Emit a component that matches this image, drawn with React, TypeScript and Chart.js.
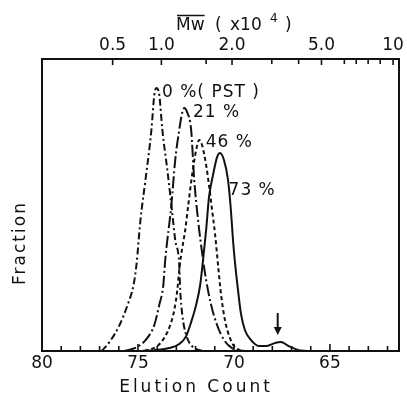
import { useEffect, useRef } from 'react';
import { Chart, registerables } from 'chart.js';
Chart.register(...registerables);

// ---- data ----
const seriesNames = ['0 %( PST )', '21 %', '46 %', '73 %'];

const elution0 = [76.89, 76.48, 75.96, 75.54, 75.23, 75.08, 74.87, 74.61, 74.30, 74.15, 74.04, 73.89, 73.73, 73.47, 73.26, 73.06, 72.85, 72.80, 72.69, 72.49, 72.07, 71.55];
const fraction0 = [0, 0.031, 0.089, 0.158, 0.226, 0.295, 0.449, 0.586, 0.757, 0.877, 0.901, 0.877, 0.757, 0.620, 0.500, 0.380, 0.295, 0.209, 0.123, 0.055, 0.010, 0];

const elution21 = [75.70, 75.03, 74.51, 74.15, 73.89, 73.68, 73.58, 73.26, 73.06, 72.85, 72.69, 72.59, 72.44, 72.23, 72.07, 71.87, 71.61, 71.45, 71.19, 70.88, 70.52, 70.10, 69.48];
const fraction21 = [0, 0.014, 0.045, 0.089, 0.158, 0.226, 0.312, 0.500, 0.654, 0.757, 0.818, 0.832, 0.818, 0.757, 0.586, 0.449, 0.312, 0.243, 0.158, 0.089, 0.038, 0.010, 0];

const elution46 = [74.66, 73.99, 73.63, 73.32, 73.11, 72.95, 72.85, 72.75, 72.54, 72.38, 72.18, 71.97, 71.81, 71.66, 71.45, 71.30, 71.14, 70.98, 70.83, 70.67, 70.47, 70.21, 69.90, 69.38];
const fraction46 = [0, 0.017, 0.045, 0.089, 0.140, 0.209, 0.277, 0.329, 0.414, 0.500, 0.603, 0.688, 0.723, 0.705, 0.637, 0.568, 0.483, 0.397, 0.295, 0.192, 0.106, 0.045, 0.010, 0];

const elution73 = [74.92, 74.15, 73.37, 72.85, 72.49, 72.23, 71.97, 71.76, 71.61, 71.45, 71.30, 71.09, 70.88, 70.73, 70.52, 70.31, 70.16, 70.05, 69.95, 69.79, 69.64, 69.43, 69.12, 68.70, 68.29, 67.88, 67.56, 67.15, 66.63, 66.22];
const fraction73 = [0, 0.003, 0.010, 0.024, 0.051, 0.099, 0.158, 0.226, 0.312, 0.414, 0.527, 0.603, 0.664, 0.678, 0.654, 0.586, 0.483, 0.380, 0.305, 0.209, 0.130, 0.072, 0.038, 0.017, 0.017, 0.027, 0.031, 0.017, 0.003, 0];

// bottom axis (elution count)
const elutionTicks = [80, 79, 78, 77, 76, 75, 74, 73, 72, 71, 70, 69, 68, 67, 66, 65, 64, 63, 62];
const elutionLabels = [80, 75, 70, 65];

// top axis (Mw x10^4), positions on the elution-count scale
const mwTickText = ['0.5', '1.0', '1.5', '2.0', '3.0', '4.0', '5.0', '6.0', '7.0', '8.0', '9.0', '10'];
const mwTickElution = [76.32, 73.78, 71.45, 70.10, 68.03, 66.63, 65.44, 64.25, 63.63, 63.01, 62.38, 61.71];
const mwLabelsShown = ['0.5', '1.0', '2.0', '5.0', '10'];

const arrowElution = 67.72;

const INK = '#111111';
const FONT = '"DejaVu Sans", sans-serif';
const FS = 17;

const toXY = (xs: number[], ys: number[]) => xs.map((x, i) => ({ x, y: ys[i] }));

const decorPlugin = {
  id: 'decor',
  afterDraw(chart: any) {
    const ctx = chart.ctx as CanvasRenderingContext2D;
    const xb = chart.scales.x;
    const xt = chart.scales.xTop;
    const y = chart.scales.y;
    const area = chart.chartArea;
    ctx.save();
    ctx.strokeStyle = INK;
    ctx.fillStyle = INK;
    ctx.lineWidth = 1.6;
    // inward ticks bottom
    elutionTicks.forEach((v) => {
      const px = xb.getPixelForValue(v);
      const len = v % 5 === 0 ? 7 : 5;
      ctx.beginPath();
      ctx.moveTo(px, area.bottom);
      ctx.lineTo(px, area.bottom - len);
      ctx.stroke();
    });
    // inward ticks top
    mwTickElution.forEach((v, i) => {
      const px = xt.getPixelForValue(v);
      const len = mwLabelsShown.includes(mwTickText[i]) ? 6 : 5;
      ctx.beginPath();
      ctx.moveTo(px, area.top);
      ctx.lineTo(px, area.top + len);
      ctx.stroke();
    });

    // series labels
    const labelAnchors = [
      [73.75, 0.870],
      [72.14, 0.801],
      [71.47, 0.699],
      [70.28, 0.534],
    ];
    ctx.font = `${FS}px ${FONT}`;
    (ctx as any).letterSpacing = '1px';
    ctx.textAlign = 'left';
    ctx.textBaseline = 'alphabetic';
    seriesNames.forEach((name, i) => {
      const [ex, fy] = labelAnchors[i];
      ctx.fillText(name, xb.getPixelForValue(ex), y.getPixelForValue(fy));
    });

    // arrow
    const ax = xb.getPixelForValue(arrowElution);
    const ay1 = y.getPixelForValue(0.13);
    const ay2 = y.getPixelForValue(0.055);
    ctx.lineWidth = 2;
    ctx.beginPath();
    ctx.moveTo(ax, ay1);
    ctx.lineTo(ax, ay2 - 6);
    ctx.stroke();
    ctx.beginPath();
    ctx.moveTo(ax - 4, ay2 - 8);
    ctx.lineTo(ax + 4, ay2 - 8);
    ctx.lineTo(ax, ay2);
    ctx.closePath();
    ctx.fill();

    // axis titles
    ctx.font = `${FS}px ${FONT}`;
    (ctx as any).letterSpacing = '3px';
    ctx.textAlign = 'center';
    ctx.fillText('Elution Count', 196, 392);

    ctx.save();
    (ctx as any).letterSpacing = '2px';
    ctx.translate(25, 243);
    ctx.rotate(-Math.PI / 2);
    ctx.fillText('Fraction', 0, 0);
    ctx.restore();

    // top title: Mw (x10^4)
    (ctx as any).letterSpacing = '0px';
    ctx.textAlign = 'left';
    ctx.font = `${FS}px ${FONT}`;
    ctx.fillText('Mw', 176, 30);
    const mwW = ctx.measureText('Mw').width;
    ctx.lineWidth = 1.5;
    ctx.beginPath();
    ctx.moveTo(177, 15.5);
    ctx.lineTo(176 + mwW, 15.5);
    ctx.stroke();
    ctx.fillText('(', 215, 30);
    ctx.fillText('x10', 230, 30);
    ctx.font = `12px ${FONT}`;
    ctx.fillText('4', 270, 22);
    ctx.font = `${FS}px ${FONT}`;
    ctx.fillText(')', 285, 30);

    ctx.restore();
  },
};

export default function App() {
  const ref = useRef<HTMLCanvasElement>(null);
  useEffect(() => {
    if (!ref.current) return;
    const line = (name: string, xs: number[], ys: number[], dash: number[]) => ({
      label: name,
      data: toXY(xs, ys),
      borderColor: INK,
      borderWidth: 2,
      borderDash: dash,
      pointRadius: 0,
      fill: false,
      cubicInterpolationMode: 'monotone' as const,
      xAxisID: 'x',
      yAxisID: 'y',
    });
    const chart = new Chart(ref.current, {
      type: 'line',
      data: {
        datasets: [
          line(seriesNames[0], elution0, fraction0, [7, 3, 2, 3]),
          line(seriesNames[1], elution21, fraction21, [12, 3, 2, 3]),
          line(seriesNames[2], elution46, fraction46, [4, 3]),
          line(seriesNames[3], elution73, fraction73, []),
        ],
      },
      options: {
        animation: false,
        responsive: true,
        maintainAspectRatio: false,
        layout: { padding: 0 },
        plugins: { legend: { display: false }, tooltip: { enabled: false }, title: { display: false } },
        scales: {
          x: {
            type: 'linear',
            position: 'bottom',
            reverse: true,
            min: 61.4,
            max: 80,
            afterBuildTicks: (s: any) => {
              s.ticks = elutionTicks.map((v) => ({ value: v }));
            },
            afterFit: (s: any) => {
              s.height = 45;
            },
            ticks: {
              autoSkip: false,
              maxRotation: 0,
              padding: 2,
              color: INK,
              font: { family: FONT, size: FS },
              callback: (v: any) => (elutionLabels.includes(Number(v)) ? String(v) : ''),
            },
            grid: { display: false, drawTicks: false },
            border: { display: true, color: INK, width: 2 },
          },
          xTop: {
            type: 'linear',
            position: 'top',
            reverse: true,
            min: 61.4,
            max: 80,
            afterBuildTicks: (s: any) => {
              s.ticks = mwTickElution.map((v) => ({ value: v }));
            },
            afterFit: (s: any) => {
              s.height = 59;
            },
            ticks: {
              autoSkip: false,
              maxRotation: 0,
              padding: 3,
              color: INK,
              font: { family: FONT, size: FS },
              callback: (_v: any, i: number) => (mwLabelsShown.includes(mwTickText[i]) ? mwTickText[i] : ''),
            },
            grid: { display: false, drawTicks: false },
            border: { display: true, color: INK, width: 2 },
          },
          y: {
            type: 'linear',
            position: 'left',
            min: 0,
            max: 1,
            afterFit: (s: any) => {
              s.width = 42;
            },
            ticks: { display: false },
            grid: { display: false, drawTicks: false },
            border: { display: true, color: INK, width: 2 },
          },
          yRight: {
            type: 'linear',
            position: 'right',
            min: 0,
            max: 1,
            afterFit: (s: any) => {
              s.width = 6;
            },
            ticks: { display: false },
            grid: { display: false, drawTicks: false },
            border: { display: true, color: INK, width: 2 },
          },
        },
      },
      plugins: [decorPlugin],
    });
    return () => chart.destroy();
  }, []);
  return (
    <div style={{ position: 'absolute', left: 0, top: 0, width: 407, height: 396, background: '#fff' }}>
      <canvas ref={ref} />
    </div>
  );
}
